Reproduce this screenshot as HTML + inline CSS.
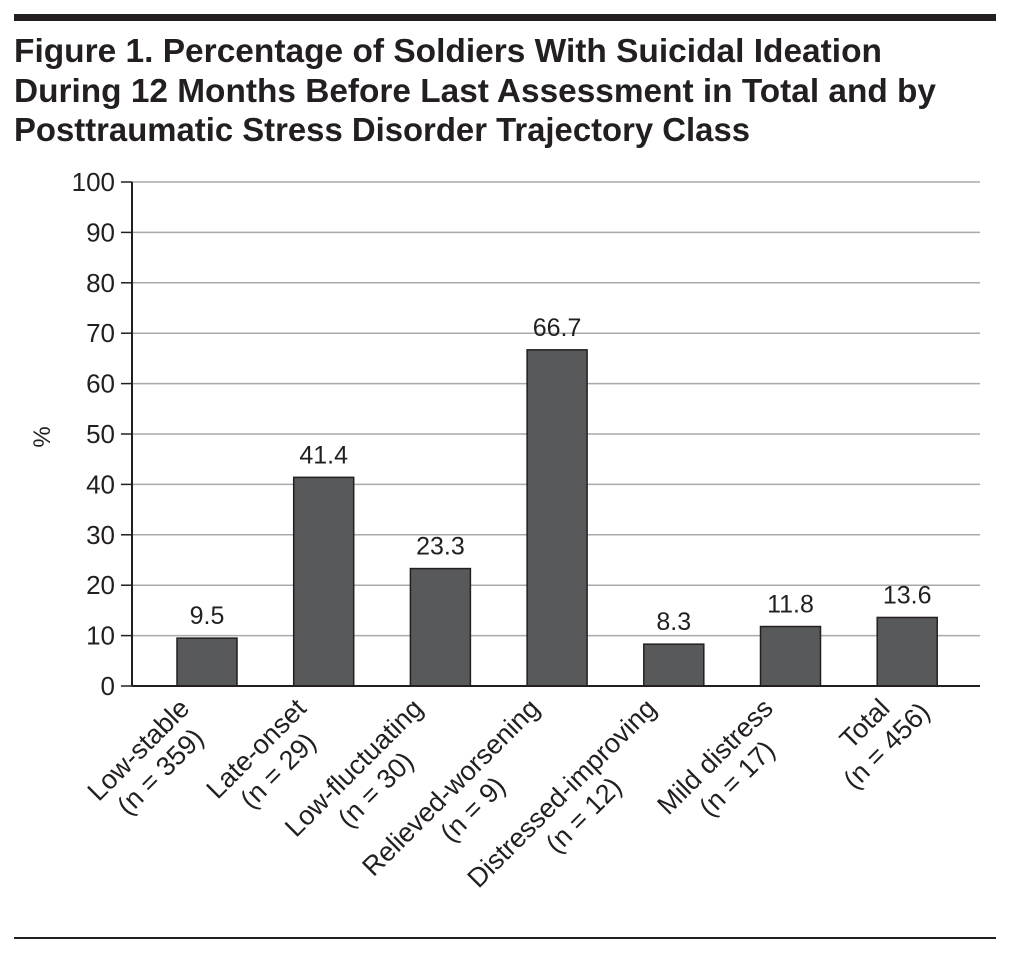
<!DOCTYPE html>
<html><head><meta charset="utf-8"><style>
body{margin:0;background:#fff;}
svg{display:block;font-family:"Liberation Sans",sans-serif;}
</style></head><body>
<svg id="chart" width="1010" height="953" viewBox="0 0 1010 953">
<rect x="14" y="14" width="982" height="7" fill="#231f20"/>
<g font-weight="bold" font-size="33" fill="#231f20">
<text x="14" y="62" textLength="868" lengthAdjust="spacingAndGlyphs">Figure 1. Percentage of Soldiers With Suicidal Ideation</text>
<text x="14" y="102" textLength="922" lengthAdjust="spacingAndGlyphs">During 12 Months Before Last Assessment in Total and by</text>
<text x="14" y="141" textLength="736" lengthAdjust="spacingAndGlyphs">Posttraumatic Stress Disorder Trajectory Class</text>
</g>
<g id="plot"></g>
<rect x="14" y="937" width="982" height="2" fill="#231f20"/>
</svg>
<script>
const categories = ["Low-stable","Late-onset","Low-fluctuating","Relieved-worsening","Distressed-improving","Mild distress","Total"];
const sampleSizes = ["(n = 359)","(n = 29)","(n = 30)","(n = 9)","(n = 12)","(n = 17)","(n = 456)"];
const values = [9.5, 41.4, 23.3, 66.7, 8.3, 11.8, 13.6];
const valueLabels = ["9.5","41.4","23.3","66.7","8.3","11.8","13.6"];
const yTicks = [0,10,20,30,40,50,60,70,80,90,100];

const NS="http://www.w3.org/2000/svg";
const g=document.getElementById('plot');
const X0=132, X1=980, Y0=686, Y100=182;
function y(v){return Y0-(v/100)*(Y0-Y100);}
function xc(i){return X0+75+i*116.7;}
function mk(t,a,p){const e=document.createElementNS(NS,t);for(const k in a)e.setAttribute(k,a[k]);(p||g).appendChild(e);return e;}

yTicks.forEach(t=>{
  if(t>0){const l=mk('line',{x1:X0,x2:X1,y1:y(t),y2:y(t),stroke:'#a7a9ac','stroke-width':1.5});
  
  }
  const tk=mk('line',{x1:X0-11,x2:X0,y1:y(t),y2:y(t),stroke:'#231f20','stroke-width':1.5});
  
  
  const tx=mk('text',{x:X0-17,y:y(t)+9,'text-anchor':'end','font-size':26,fill:'#231f20'});
  tx.textContent=t;
  
  
});
const yt=mk('text',{transform:'translate(50,437) rotate(-90)','text-anchor':'middle','font-size':24,fill:'#231f20'});
yt.textContent='%';



values.forEach((v,i)=>{
  const b=mk('rect',{x:xc(i)-30,y:y(v),width:60,height:Y0-y(v),fill:'#58595b',stroke:'#231f20','stroke-width':1.5});
  
  
  const t=mk('text',{x:xc(i),y:y(v)-14,'text-anchor':'middle','font-size':25,fill:'#231f20'});
  t.textContent=valueLabels[i];
  
  
  const grp=mk('g',{transform:`translate(${xc(i)-16},710) rotate(-45)`});
  
  
  const l1=mk('text',{x:0,y:0,'text-anchor':'end','font-size':27,fill:'#231f20'},grp);
  l1.textContent=categories[i];
  const l2=mk('text',{x:0,y:31,'text-anchor':'middle','font-size':27,fill:'#231f20'},grp);
  l2.textContent=sampleSizes[i];
  const w1=l1.getComputedTextLength();
  l2.setAttribute('x',-w1/2);
});
const ax=mk('line',{x1:X0,x2:X0,y1:Y100,y2:Y0,stroke:'#231f20','stroke-width':2});


const bx=mk('line',{x1:X0,x2:X1,y1:Y0,y2:Y0,stroke:'#231f20','stroke-width':2});


</script>
</body></html>
